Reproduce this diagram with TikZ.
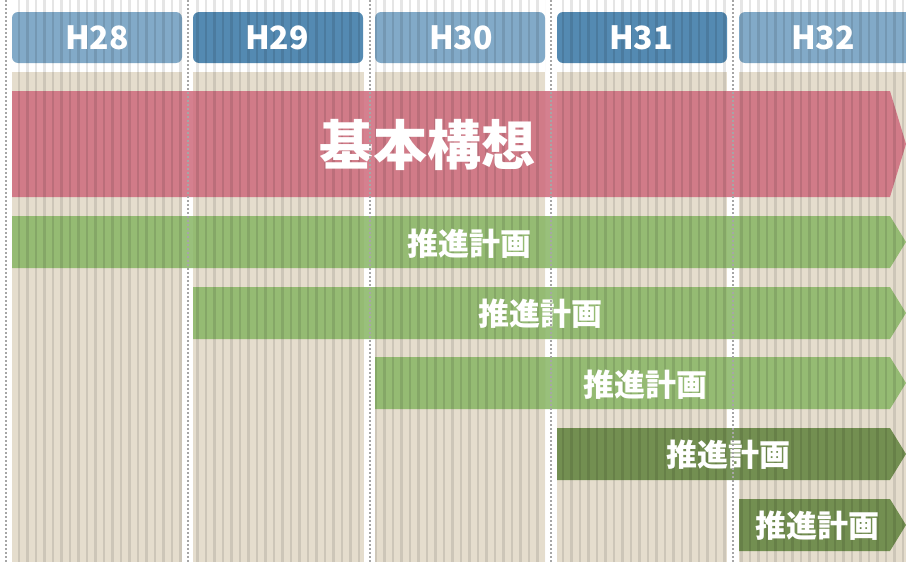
\documentclass[tikz,border=0pt]{standalone}
\usepackage{fontspec}
\newfontfamily\jpfont{Noto Sans CJK JP}
\definecolor{beige}{RGB}{229,221,205}
\definecolor{headlight}{RGB}{130,170,200}
\definecolor{headdark}{RGB}{84,138,178}
\definecolor{planpink}{RGB}{206,106,124}
\definecolor{plangreen}{RGB}{136,182,100}
\definecolor{plandark}{RGB}{96,130,60}

\tikzset{
  pics/plan_bar/.style args={#1,#2,#3}{
     code={
        \fill[#3, opacity=.85] (0,0) -- (#1,0) -- ++(16,#2/2) -- ++(-16,#2/2) -- (0,#2) -- cycle;
     }
  },
  yr_label/.style={text=white, font=\jpfont\bfseries\fontsize{32}{32}\selectfont},
  bar_text/.style={text=white, font=\jpfont\bfseries\fontsize{31}{31}\selectfont},
  stripe/.style={black, opacity=.1, line width=2.5pt},
  divider/.style={gray!70, line width=2pt, dash pattern=on 2pt off 2pt}
}

\begin{document}
\begin{tikzpicture}[x=1pt, y=-1pt]
    \useasboundingbox (0,0) rectangle (906,562);
    \fill[white] (0,0) rectangle (906,562);
    % year columns
    \foreach \xa/\xb in {12/182,193/364,375/545,557/727,739/906}
        \fill[beige] (\xa,72) rectangle (\xb,562);
    \foreach \xa/\xb/\col in {12/182/headlight,193/363/headdark,375/545/headlight,557/727/headdark,739/914/headlight}
        \fill[\col, rounded corners=6pt] (\xa,12) rectangle (\xb,63);
    % plans
    \draw (12,91) pic{plan_bar={878,106,planpink}};
    \draw (12,216) pic{plan_bar={878,52,plangreen}};
    \draw (193,287) pic{plan_bar={697,52,plangreen}};
    \draw (375,357) pic{plan_bar={515,52,plangreen}};
    \draw (557,428) pic{plan_bar={333,52,plandark}};
    \draw (739,499) pic{plan_bar={151,52,plandark}};
    % pinstripes
    \begin{scope}
        \clip (12,0) rectangle (182,562) (193,0) rectangle (364,562) (375,0) rectangle (545,562)
              (557,0) rectangle (727,562) (739,0) rectangle (906,562);
        \foreach \s in {2,10.5,...,906} \draw[stripe] (\s,0) -- (\s,562);
    \end{scope}
    \node[yr_label] (h28) at (97,38) {H28};
    \node[yr_label] (h29) at (277,38) {H29};
    \node[yr_label] (h30) at (461,38) {H30};
    \node[yr_label] (h31) at (641,38) {H31};
    \node[yr_label] (h32) at (823,38) {H32};
    \node[bar_text, font=\jpfont\bfseries\fontsize{54}{54}\selectfont] (kihon) at (427,145) {基本構想};
    \node[bar_text] (plan1) at (469,244) {推進計画};
    \node[bar_text] (plan2) at (540,314) {推進計画};
    \node[bar_text] (plan3) at (645,385) {推進計画};
    \node[bar_text] (plan4) at (728,455) {推進計画};
    \node[bar_text] (plan5) at (817,526) {推進計画};
    \foreach \x in {6,188,370,551,733} \draw[divider] (\x,0) -- (\x,562);
\end{tikzpicture}
\end{document}
